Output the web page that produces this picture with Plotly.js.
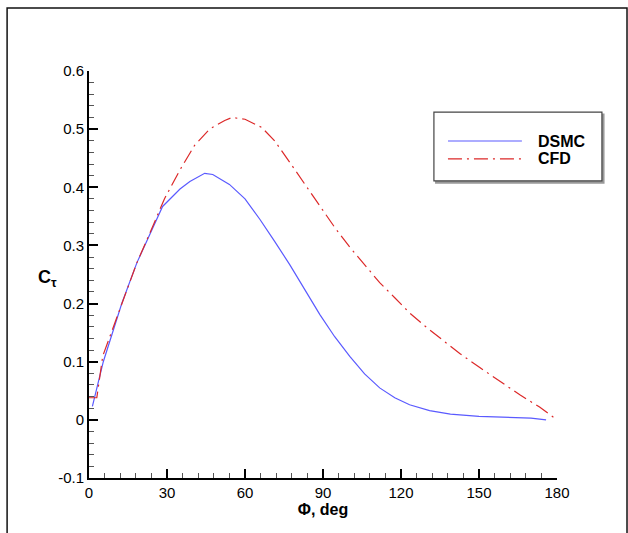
<!DOCTYPE html>
<html>
<head>
<meta charset="utf-8">
<script src="https://cdn.plot.ly/plotly-3.0.1.min.js"></script>
<style>html,body{margin:0;padding:0;background:#fff;}#chart{width:628px;height:533px;}</style>
</head>
<body>
<div id="chart"></div>
<script>
// DSMC series (Phi in deg, C_tau)
var dsmcPhi = [1.3, 5.5, 12.6, 18.4, 28.3, 35, 38.8, 44.5, 47.6, 54, 60, 65.7, 71.4, 77.2, 83, 88.8, 94.5, 100.3, 106, 111.8, 117.6, 123.3, 131, 139, 150, 161.8, 170, 175.8];
var dsmcC   = [0.023, 0.10, 0.20, 0.27, 0.367, 0.397, 0.41, 0.424, 0.422, 0.405, 0.38, 0.345, 0.307, 0.267, 0.224, 0.181, 0.143, 0.109, 0.079, 0.055, 0.038, 0.026, 0.016, 0.010, 0.006, 0.004, 0.003, 0.0];
// CFD series
var cfdPhi = [0, 3, 5.3, 11.8, 18.4, 23.3, 29, 35, 40.6, 46.4, 52.2, 55, 60, 66.4, 71.4, 77.2, 83, 88.8, 94.5, 100.3, 106, 111.8, 117.6, 123.3, 129, 135, 142.6, 150.3, 158, 165.7, 173.3, 179.1];
var cfdC   = [0.038, 0.038, 0.11, 0.19, 0.27, 0.32, 0.38, 0.43, 0.472, 0.50, 0.515, 0.52, 0.517, 0.503, 0.48, 0.443, 0.405, 0.367, 0.331, 0.297, 0.266, 0.236, 0.21, 0.184, 0.162, 0.141, 0.114, 0.09, 0.066, 0.043, 0.022, 0.003];
// Tick labels
var xTickVals = [0, 30, 60, 90, 120, 150, 180];
var xTickText = ['0', '30', '60', '90', '120', '150', '180'];
var yTickVals = [-0.1, 0, 0.1, 0.2, 0.3, 0.4, 0.5, 0.6];
var yTickText = ['-0.1', '0', '0.1', '0.2', '0.3', '0.4', '0.5', '0.6'];
var seriesNames = ['DSMC', 'CFD'];
var seriesColors = ['rgb(90,90,255)', 'rgb(220,40,40)'];
var seriesDash = ['solid', '14px,5px,2px,5px'];

var FONT = 'Liberation Sans, Arial, sans-serif';

var traces = [
  {x: dsmcPhi, y: dsmcC, name: seriesNames[0], type: 'scatter', mode: 'lines',
   line: {color: seriesColors[0], width: 1.2, dash: seriesDash[0]}},
  {x: cfdPhi, y: cfdC, name: seriesNames[1], type: 'scatter', mode: 'lines',
   line: {color: seriesColors[1], width: 1.2, dash: seriesDash[1]}}
];

// custom legend (box, samples, labels) in paper coordinates
var legX0 = 0.737, legX1 = 1.096, legYTop = 0.899, legYBot = 0.730;
var legRowY = [0.828, 0.784];
var shapes = [
  {type: 'rect', xref: 'paper', yref: 'paper', x0: -0.175, x1: 1.1496, y0: -0.16, y1: 1.1548,
   line: {color: '#111', width: 1.5}, fillcolor: 'rgba(0,0,0,0)', layer: 'below'},
  {type: 'rect', xref: 'paper', yref: 'paper', x0: legX0 + 0.004, x1: legX1 + 0.004, y0: legYBot - 0.005, y1: legYTop - 0.005,
   line: {color: '#999', width: 1.5}, fillcolor: '#999', layer: 'above'},
  {type: 'rect', xref: 'paper', yref: 'paper', x0: legX0, x1: legX1, y0: legYBot, y1: legYTop,
   line: {color: '#444', width: 1.2}, fillcolor: '#fff', layer: 'above'}
];
var annotations = [
  {xref: 'paper', yref: 'paper', x: -0.089, y: 0.49, xanchor: 'center', yanchor: 'middle',
   text: '<b>C<sub>τ</sub></b>', showarrow: false, font: {family: FONT, size: 18, color: '#000'}}
];
for (var i = 0; i < seriesNames.length; i++) {
  shapes.push({type: 'line', xref: 'paper', yref: 'paper', x0: 0.767, x1: 0.925, y0: legRowY[i], y1: legRowY[i],
    line: {color: seriesColors[i], width: 1.2, dash: seriesDash[i]}, layer: 'above'});
  annotations.push({xref: 'paper', yref: 'paper', x: 0.955, y: legRowY[i], xanchor: 'left', yanchor: 'middle',
    text: '<b>' + seriesNames[i] + '</b>', showarrow: false, font: {family: FONT, size: 16, color: '#000'}});
}

var layout = {
  width: 628, height: 533,
  margin: {l: 89, r: 71, t: 71, b: 55},
  paper_bgcolor: '#ffffff', plot_bgcolor: '#ffffff',
  font: {family: FONT, color: '#000', size: 14},
  showlegend: false,
  xaxis: {
    range: [0, 180], tickvals: xTickVals, ticktext: xTickText,
    showgrid: false, zeroline: false, showline: true, linecolor: '#000', linewidth: 2,
    ticks: 'inside', ticklen: 9, tickwidth: 2, tickcolor: '#000',
    tickfont: {family: FONT, size: 15, color: '#000'},
    minor: {dtick: 6, ticks: 'inside', ticklen: 5, tickwidth: 1, tickcolor: '#555'},
    title: {text: '<b>Φ, deg</b>', font: {family: FONT, size: 16, color: '#000'}, standoff: 2}
  },
  yaxis: {
    range: [-0.1, 0.6], tickvals: yTickVals, ticktext: yTickText,
    showgrid: false, zeroline: false, showline: true, linecolor: '#000', linewidth: 2,
    ticks: 'inside', ticklen: 9, tickwidth: 2, tickcolor: '#000',
    tickfont: {family: FONT, size: 15, color: '#000'},
    minor: {dtick: 0.02, ticks: 'inside', ticklen: 5, tickwidth: 1, tickcolor: '#555'}
  },
  annotations: annotations,
  shapes: shapes
};

Plotly.newPlot('chart', traces, layout, {displayModeBar: false, staticPlot: true});
</script>
</body>
</html>
